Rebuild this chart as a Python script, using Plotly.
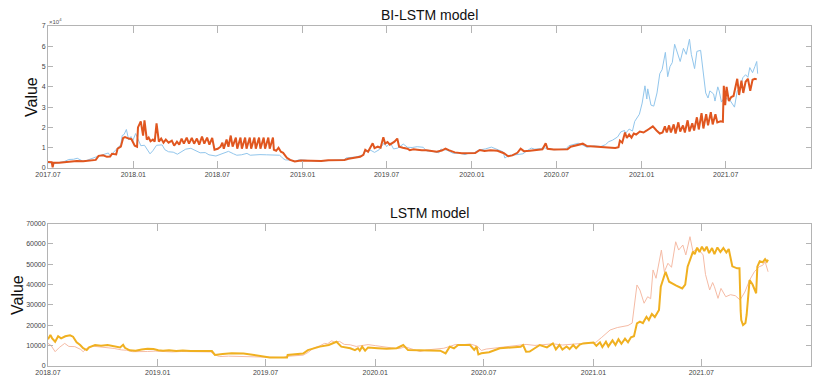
import plotly.graph_objects as go

# ---------------- data: BI-LSTM (top) ----------------
bi_actual_dates = [
    "2017-07-01","2017-07-08","2017-07-16","2017-07-25","2017-08-05","2017-08-15","2017-08-25","2017-09-02",
    "2017-09-14","2017-09-22","2017-10-01","2017-10-12","2017-10-20","2017-11-01","2017-11-08","2017-11-12",
    "2017-11-20","2017-11-28","2017-12-05","2017-12-08","2017-12-12","2017-12-17","2017-12-22","2017-12-27",
    "2017-12-30","2018-01-06","2018-01-10","2018-01-17","2018-01-25","2018-02-01","2018-02-06","2018-02-12",
    "2018-02-20","2018-03-04","2018-03-10","2018-03-18","2018-03-28","2018-04-06","2018-04-15","2018-04-24",
    "2018-05-05","2018-05-15","2018-05-25","2018-06-05","2018-06-13","2018-06-28","2018-07-08","2018-07-18",
    "2018-07-25","2018-08-05","2018-08-12","2018-08-22","2018-09-03","2018-09-10","2018-09-20","2018-10-01",
    "2018-10-15","2018-10-30","2018-11-12","2018-11-16","2018-11-20","2018-11-25","2018-12-05","2018-12-15",
    "2018-12-24","2019-01-05","2019-01-15","2019-02-07","2019-02-25","2019-03-15","2019-04-01","2019-04-05",
    "2019-04-25","2019-05-10","2019-05-15","2019-05-28","2019-06-05","2019-06-15","2019-06-26","2019-07-01",
    "2019-07-09","2019-07-16","2019-07-25","2019-08-06","2019-08-15","2019-08-25","2019-09-05","2019-09-18",
    "2019-09-25","2019-10-08","2019-10-22","2019-10-26","2019-11-08","2019-11-22","2019-12-05","2019-12-17",
    "2019-12-25","2020-01-05","2020-01-15","2020-01-30","2020-02-12","2020-02-20","2020-02-28","2020-03-08",
    "2020-03-12","2020-03-20","2020-03-28","2020-04-10","2020-04-20","2020-04-30","2020-05-08","2020-05-15",
    "2020-05-28","2020-06-03","2020-06-15","2020-06-27","2020-07-10","2020-07-22","2020-07-28","2020-08-10",
    "2020-08-17","2020-08-25","2020-09-05","2020-09-20","2020-10-05","2020-10-15","2020-10-22","2020-10-30",
    "2020-11-10","2020-11-17","2020-11-25","2020-11-27","2020-12-05","2020-12-12","2020-12-17","2020-12-27",
    "2021-01-02","2021-01-08","2021-01-12","2021-01-14","2021-01-21","2021-01-27","2021-02-03","2021-02-09",
    "2021-02-14","2021-02-21","2021-02-26","2021-03-03","2021-03-08","2021-03-13","2021-03-18","2021-03-25",
    "2021-04-01","2021-04-07","2021-04-14","2021-04-18","2021-04-25","2021-04-30","2021-05-08","2021-05-13",
    "2021-05-17","2021-05-19","2021-05-24","2021-05-28","2021-06-05","2021-06-08","2021-06-14","2021-06-17",
    "2021-06-22","2021-06-28","2021-07-05","2021-07-10","2021-07-20","2021-07-26","2021-08-01","2021-08-07",
    "2021-08-13","2021-08-18","2021-08-22","2021-08-28","2021-09-02","2021-09-06","2021-09-08",
]
bi_actual_values = [
    2600,2500,2200,2700,3200,4200,4300,4800,
    3400,3700,4300,5400,6000,6700,7400,6000,
    8000,9800,11500,16000,16500,19000,13800,15500,
    13000,17000,14500,11000,11200,9000,7000,8500,
    11200,11400,9000,8000,7800,6800,8000,9300,
    9700,8600,7500,7600,6500,5900,6700,7400,
    8200,7000,6300,6500,7200,6300,6500,6600,
    6500,6400,6300,5600,4600,4000,3900,3300,
    4000,3900,3600,3400,3800,3900,4100,5000,
    5400,6300,8000,8700,7700,9000,12500,10500,
    12400,9400,9800,11800,10200,10100,10500,10200,
    8400,8200,7500,9300,8800,7200,7400,6600,
    7300,7400,8800,9400,10300,9600,8600,8000,
    4900,6200,6300,6900,7000,8700,9800,9300,
    9500,10000,9400,9000,9200,9500,11000,11800,
    12200,11500,10200,10900,10600,11500,13000,13700,
    15300,17800,18500,17000,19200,18200,23000,26500,
    32000,40500,34000,39000,31000,30500,37000,46500,
    48500,57000,45000,50000,52000,61000,57500,52500,
    59000,56000,63500,56000,49000,57500,58000,49500,
    43000,37000,34500,38000,36500,33000,40000,38000,
    32500,34500,34000,33500,30000,38000,39500,44500,
    46000,44700,49500,47000,50000,52500,46500,
]

bi_pred_dates = [
    "2017-07-01","2017-07-09","2017-07-11","2017-07-13","2017-07-25","2017-08-05","2017-08-15","2017-09-01",
    "2017-09-15","2017-10-01","2017-10-12","2017-10-18","2017-10-28","2017-11-05","2017-11-12","2017-11-16",
    "2017-11-25","2017-11-28","2017-12-05","2017-12-10","2017-12-14","2017-12-22","2017-12-28","2018-01-04",
    "2018-01-09","2018-01-11","2018-01-17","2018-01-22","2018-01-25","2018-01-30","2018-02-03","2018-02-07",
    "2018-02-12","2018-02-16","2018-02-20","2018-02-25","2018-03-02","2018-03-07","2018-03-12","2018-03-18",
    "2018-03-25","2018-03-30","2018-04-05","2018-04-10","2018-04-15","2018-04-20","2018-04-26","2018-05-01",
    "2018-05-07","2018-05-12","2018-05-18","2018-05-23","2018-05-29","2018-06-03","2018-06-09","2018-06-14",
    "2018-06-20","2018-06-25","2018-07-02","2018-07-08","2018-07-12","2018-07-15","2018-07-21","2018-07-25",
    "2018-07-30","2018-08-03","2018-08-10","2018-08-13","2018-08-20","2018-08-23","2018-08-30","2018-09-02",
    "2018-09-09","2018-09-12","2018-09-19","2018-09-22","2018-09-29","2018-10-02","2018-10-09","2018-10-12",
    "2018-10-19","2018-10-22","2018-10-29","2018-10-31","2018-11-05","2018-11-10","2018-11-15","2018-11-20",
    "2018-11-28","2018-12-05","2018-12-15","2018-12-28","2019-01-10","2019-01-25","2019-02-10","2019-02-25",
    "2019-03-15","2019-04-01","2019-04-10","2019-04-25","2019-05-05","2019-05-12","2019-05-16","2019-05-22",
    "2019-05-28","2019-06-01","2019-06-05","2019-06-12","2019-06-18","2019-06-24","2019-06-28","2019-07-03",
    "2019-07-08","2019-07-12","2019-07-18","2019-07-24","2019-07-28","2019-08-05","2019-08-15","2019-08-20",
    "2019-08-28","2019-09-05","2019-09-15","2019-09-25","2019-10-05","2019-10-17","2019-10-28","2019-11-05",
    "2019-11-12","2019-11-25","2019-12-10","2019-12-25","2020-01-08","2020-01-18","2020-01-28","2020-02-10",
    "2020-02-25","2020-03-10","2020-03-19","2020-03-28","2020-04-08","2020-04-15","2020-04-22","2020-05-05",
    "2020-05-20","2020-06-01","2020-06-08","2020-06-12","2020-06-25","2020-07-10","2020-07-25","2020-08-01",
    "2020-08-10","2020-08-20","2020-08-27","2020-09-05","2020-09-20","2020-10-05","2020-10-20","2020-10-28",
    "2020-11-05","2020-11-12","2020-11-15","2020-11-20","2020-11-26","2020-11-30","2020-12-05","2020-12-10",
    "2020-12-15","2020-12-20","2020-12-28","2021-01-05","2021-01-12","2021-01-20","2021-01-25","2021-02-02",
    "2021-02-09","2021-02-15","2021-02-20","2021-02-24","2021-03-01","2021-03-05","2021-03-11","2021-03-15",
    "2021-03-21","2021-03-25","2021-03-31","2021-04-04","2021-04-10","2021-04-14","2021-04-20","2021-04-24",
    "2021-04-30","2021-05-04","2021-05-10","2021-05-14","2021-05-20","2021-05-24","2021-05-30","2021-06-03",
    "2021-06-09","2021-06-13","2021-06-20","2021-06-25","2021-06-27","2021-06-30","2021-07-03","2021-07-08",
    "2021-07-13","2021-07-18","2021-07-22","2021-07-26","2021-07-30","2021-08-04","2021-08-08","2021-08-13",
    "2021-08-18","2021-08-23","2021-08-28","2021-09-02","2021-09-06",
]
bi_pred_values = [
    3000,2900,300,2600,2600,2800,3200,3400,
    3300,3500,4000,6000,6300,5500,5600,7000,
    6700,9500,10500,14800,15200,14500,14200,11000,
    10500,20000,23000,16000,23500,14000,15000,13200,
    14000,13000,22000,13000,14500,12500,14000,12500,
    13500,11000,13000,11500,14500,12000,15000,12000,
    14800,12000,14500,11500,15500,12000,15000,11500,
    14800,9000,9500,10500,12500,9500,14000,10500,
    16000,10500,15000,9500,15000,9500,15000,9500,
    15000,9500,15000,9500,15000,9500,15000,9500,
    15000,9500,15000,9000,8500,10000,8000,7500,
    5000,4000,3200,3700,3600,3700,3500,3800,
    3800,4000,4600,5000,5500,6500,9000,8000,
    11000,12200,9800,10500,10000,15200,12000,12800,
    11500,12000,13000,14500,10500,10000,9500,8800,
    9200,9000,8700,8800,8300,8000,8600,9600,
    8800,7700,7300,7200,7400,8900,8400,8700,
    8500,7300,5800,6200,7500,9500,8300,8500,
    8800,9200,12200,9500,9100,9000,9200,10500,
    11000,11500,12000,10800,10500,10200,9800,10000,
    9900,10300,13500,12500,17500,14800,16500,15000,
    17000,16500,18000,17500,18500,20000,20500,18500,
    17000,17500,20500,17500,21000,17500,21500,17000,
    22500,18000,21000,17500,23500,18000,22000,18500,
    25000,19000,27000,19500,26500,21000,27500,21500,
    26500,22500,23000,22800,40500,31000,40000,33000,
    35000,35500,40500,44000,36000,43000,37000,42500,
    44000,38000,43500,44000,43700,
]

# ---------------- data: LSTM (bottom) ----------------
lstm_actual_dates = [
    "2018-07-01","2018-07-06","2018-07-13","2018-07-20","2018-07-29","2018-08-05","2018-08-15","2018-08-25",
    "2018-08-29","2018-09-06","2018-09-15","2018-09-28","2018-10-10","2018-10-20","2018-11-01","2018-11-10",
    "2018-11-20","2018-12-05","2018-12-15","2018-12-28","2019-01-10","2019-01-25","2019-02-10","2019-02-25",
    "2019-03-15","2019-03-31","2019-04-08","2019-04-15","2019-04-30","2019-05-20","2019-06-10","2019-06-30",
    "2019-07-15","2019-07-31","2019-08-06","2019-08-20","2019-09-02","2019-09-10","2019-09-20","2019-09-30",
    "2019-10-08","2019-10-13","2019-10-20","2019-10-25","2019-11-02","2019-11-10","2019-11-20","2019-11-30",
    "2019-12-10","2019-12-20","2020-01-01","2020-01-15","2020-01-28","2020-02-10","2020-02-20","2020-03-05",
    "2020-03-16","2020-03-28","2020-04-10","2020-04-25","2020-05-05","2020-05-15","2020-05-25","2020-06-08",
    "2020-06-20","2020-06-27","2020-07-05","2020-07-20","2020-08-01","2020-08-15","2020-08-30","2020-09-10",
    "2020-09-25","2020-10-08","2020-10-25","2020-11-10","2020-11-25","2020-12-10","2020-12-25","2021-01-05",
    "2021-01-15","2021-01-29","2021-02-10","2021-02-19","2021-02-28","2021-03-07","2021-03-11","2021-03-15",
    "2021-03-20","2021-03-27","2021-04-02","2021-04-07","2021-04-11","2021-04-16","2021-04-25","2021-04-30",
    "2021-05-06","2021-05-12","2021-05-19","2021-05-24","2021-05-31","2021-06-05","2021-06-12","2021-06-17",
    "2021-06-25","2021-07-04","2021-07-08","2021-07-15","2021-07-20","2021-07-23","2021-07-29","2021-08-03",
    "2021-08-11","2021-08-19","2021-08-27","2021-09-04","2021-09-12","2021-09-20","2021-09-28","2021-10-06",
    "2021-10-12","2021-10-16","2021-10-21",
]
lstm_actual_values = [
    11000,10000,6900,9000,11000,9500,9400,8000,
    6900,9000,9600,9300,9000,8500,7800,7600,
    6900,6800,7000,7200,7000,6800,7000,6900,
    7000,6800,5200,4500,4700,4500,4300,4000,
    4000,4000,4600,5000,5200,6500,8800,9800,
    11000,10800,12300,11500,12000,10500,10300,9500,
    10000,10400,9900,9200,8800,8400,9300,8000,
    7000,7800,8300,8600,9500,10500,10300,10700,
    9700,7500,8200,8700,9000,9300,10000,10500,
    10000,10300,10800,10200,10700,10900,11300,11500,
    14000,17600,18800,19300,19800,21000,30000,39800,
    37300,30800,34000,33000,47200,43100,57000,46300,
    50500,48500,61100,57000,59500,54600,63600,56200,
    57900,54600,45000,37300,41000,38900,33200,38100,
    34000,35000,34500,32400,36300,42200,46300,48800,
    49500,51300,46300,
]

lstm_pred_dates = [
    "2018-07-01","2018-07-05","2018-07-08","2018-07-13","2018-07-18","2018-07-23","2018-07-30","2018-08-07",
    "2018-08-12","2018-08-18","2018-08-24","2018-08-29","2018-09-04","2018-09-08","2018-09-18","2018-09-28",
    "2018-10-09","2018-10-20","2018-10-30","2018-11-04","2018-11-07","2018-11-15","2018-11-25","2018-12-05",
    "2018-12-15","2018-12-25","2019-01-02","2019-01-10","2019-01-20","2019-02-01","2019-02-12","2019-02-25",
    "2019-03-10","2019-03-25","2019-04-02","2019-04-07","2019-04-20","2019-05-05","2019-05-25","2019-06-10",
    "2019-06-25","2019-07-08","2019-07-25","2019-08-06","2019-08-07","2019-08-20","2019-09-02","2019-09-10",
    "2019-09-20","2019-09-30","2019-10-15","2019-10-28","2019-11-05","2019-11-20","2019-11-28","2019-12-03",
    "2019-12-06","2019-12-10","2019-12-15","2019-12-20","2020-01-05","2020-01-20","2020-02-06","2020-02-17",
    "2020-02-25","2020-03-05","2020-03-16","2020-04-02","2020-04-19","2020-04-28","2020-05-05","2020-05-12",
    "2020-05-19","2020-06-08","2020-06-15","2020-06-19","2020-06-22","2020-06-27","2020-07-10","2020-07-28",
    "2020-08-15","2020-09-01","2020-09-05","2020-09-10","2020-09-16","2020-10-03","2020-10-15","2020-10-25",
    "2020-10-30","2020-11-05","2020-11-10","2020-11-17","2020-11-22","2020-11-28","2020-12-03","2020-12-09",
    "2020-12-15","2020-12-25","2021-01-01","2021-01-06","2021-01-12","2021-01-16","2021-01-22","2021-01-26",
    "2021-02-02","2021-02-07","2021-02-12","2021-02-17","2021-02-23","2021-02-28","2021-03-05","2021-03-10",
    "2021-03-15","2021-03-20","2021-03-25","2021-03-31","2021-04-04","2021-04-09","2021-04-14","2021-04-21",
    "2021-04-24","2021-05-02","2021-05-05","2021-05-08","2021-05-20","2021-05-30","2021-06-04","2021-06-08",
    "2021-06-17","2021-06-20","2021-06-24","2021-06-28","2021-07-02","2021-07-06","2021-07-10","2021-07-14",
    "2021-07-19","2021-07-23","2021-07-28","2021-08-02","2021-08-07","2021-08-12","2021-08-16","2021-08-22",
    "2021-08-30","2021-09-03","2021-09-05","2021-09-06","2021-09-09","2021-09-13","2021-09-15","2021-09-20",
    "2021-09-25","2021-10-01","2021-10-03","2021-10-07","2021-10-12","2021-10-16","2021-10-19","2021-10-21",
]
lstm_pred_values = [
    13000,15100,13500,11800,14500,13500,14500,15000,
    14300,11500,10200,8600,7700,9000,10200,9800,
    10200,9400,9000,10300,8800,7600,7400,8000,
    8300,8200,7600,7400,7600,7300,7500,7200,
    7400,7300,7200,5300,5800,6100,6000,5200,
    4600,4100,4100,4100,5300,5500,6000,7700,
    8600,9400,10200,11800,9400,8600,7700,8600,
    7400,9400,7400,9000,8600,8300,8600,10200,
    7700,7700,7400,7600,7400,6100,9400,8600,
    10200,10200,7800,9400,5600,6100,6600,8600,
    9000,9300,10200,6900,7000,10200,9000,11000,
    8000,10200,8000,9500,8200,10200,8600,10400,
    11000,11300,11400,9800,11500,9200,11800,9500,
    12500,10200,13000,10800,13300,11500,14000,14500,
    20900,21700,21000,24100,22500,25500,24000,27500,
    38900,46300,44000,41400,39500,38100,40000,48800,
    56200,55000,58200,56000,58700,56500,58700,55500,
    58000,55000,58300,56000,58000,55800,57500,49000,
    48000,48000,27000,22500,20000,21000,25000,42200,
    40000,35700,48800,51500,51000,52500,51300,52200,
]

# ---------------- axis labels ----------------
bi_tick_dates = ["2017-07-01","2018-01-01","2018-07-01","2019-01-01","2019-07-01",
                 "2020-01-01","2020-07-01","2021-01-01","2021-07-01","2022-01-01"]
bi_tick_text = ["2017.07","2018.01","2018.07","2019.01","2019.07",
                "2020.01","2020.07","2021.01","2021.07","2022.01"]
lstm_tick_dates = bi_tick_dates[2:]
lstm_tick_text = bi_tick_text[2:]
y_tick_vals = [0, 10000, 20000, 30000, 40000, 50000, 60000, 70000]
bi_y_tick_text = ["0", "1", "2", "3", "4", "5", "6", "7"]
lstm_y_tick_text = ["0", "10000", "20000", "30000", "40000", "50000", "60000", "70000"]

W, H = 823, 379
FONT = "Liberation Sans"

fig = go.Figure()
fig.add_trace(go.Scatter(x=bi_actual_dates, y=bi_actual_values, mode="lines",
                         line=dict(color="#92c6ec", width=1), xaxis="x", yaxis="y"))
fig.add_trace(go.Scatter(x=bi_pred_dates, y=bi_pred_values, mode="lines",
                         line=dict(color="#e0561f", width=2), xaxis="x", yaxis="y"))
fig.add_trace(go.Scatter(x=lstm_actual_dates, y=lstm_actual_values, mode="lines",
                         line=dict(color="#f5bba5", width=1), xaxis="x2", yaxis="y2"))
fig.add_trace(go.Scatter(x=lstm_pred_dates, y=lstm_pred_values, mode="lines",
                         line=dict(color="#f0b020", width=2), xaxis="x2", yaxis="y2"))

x0, x1 = 48 / W, 811 / W
top_dom = [1 - 168 / H, 1 - 26 / H]
bot_dom = [1 - 365.7 / H, 1 - 223.7 / H]

axis_common = dict(showline=True, linecolor="#b4b4b4", linewidth=1, mirror="ticks",
                   ticks="inside", tickcolor="#b4b4b4", tickwidth=1, showgrid=False,
                   zeroline=False, automargin=False,
                   tickfont=dict(family=FONT, size=7, color="#444"))

fig.update_layout(
    width=W, height=H, margin=dict(l=0, r=0, t=0, b=0, autoexpand=False),
    paper_bgcolor="white", plot_bgcolor="white", showlegend=False,
    font=dict(family=FONT),
    xaxis=dict(domain=[x0, x1], anchor="y", type="date", range=["2017-07-01", "2022-01-01"],
               tickmode="array", tickvals=bi_tick_dates, ticktext=bi_tick_text, ticklen=7,
               **axis_common),
    yaxis=dict(domain=top_dom, anchor="x", range=[0, 70000], tickmode="array",
               tickvals=y_tick_vals, ticktext=bi_y_tick_text, ticklen=5, **axis_common),
    xaxis2=dict(domain=[x0, x1], anchor="y2", type="date", range=["2018-07-01", "2022-01-01"],
                tickmode="array", tickvals=lstm_tick_dates, ticktext=lstm_tick_text, ticklen=7,
                **axis_common),
    yaxis2=dict(domain=bot_dom, anchor="x2", range=[0, 70000], tickmode="array",
                tickvals=y_tick_vals, ticktext=lstm_y_tick_text, ticklen=5, **axis_common),
)

def label(text, xpx, ypx, size, angle=0, color="#111", xanchor="center"):
    fig.add_annotation(text=text, x=xpx / W, y=1 - ypx / H, xref="paper", yref="paper",
                       xanchor=xanchor, yanchor="middle", showarrow=False, textangle=angle,
                       font=dict(family=FONT, size=size, color=color))

label("BI-LSTM model", 429.5, 15, 14)
label("LSTM model", 429.5, 213, 14)
label("Value", 32, 97, 16, angle=-90)
label("Value", 17, 295, 16, angle=-90)
label("×10<sup>4</sup>", 47, 21, 6, color="#555", xanchor="left")

fig.write_html("out.html")
